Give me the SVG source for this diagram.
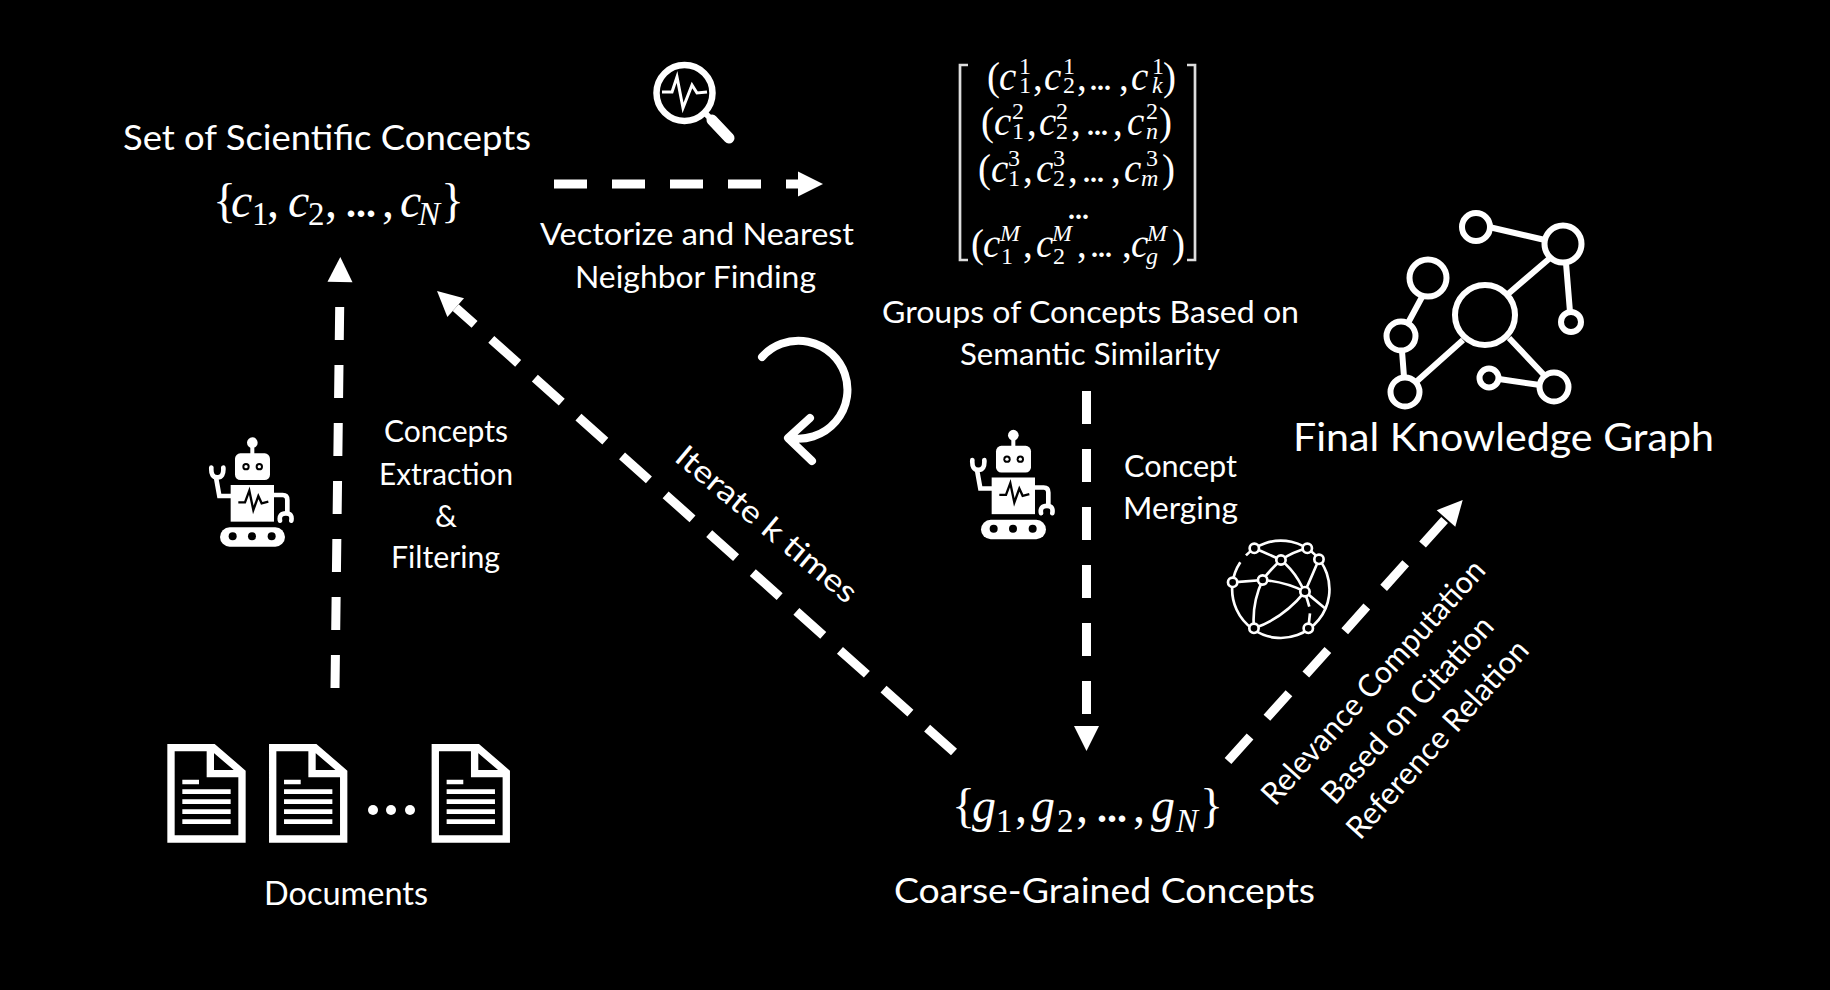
<svg xmlns="http://www.w3.org/2000/svg" width="1830" height="990" viewBox="0 0 1830 990">
<style>
.t{font-family:Lato,"Open Sans",sans-serif;fill:#fff;font-size:31px}
.m{font-family:"Liberation Serif",serif;font-style:italic;fill:#fff;font-size:39px}
.n{font-family:"Liberation Serif",serif;fill:#fff;font-size:39px}
.s{font-size:24px;font-style:normal}
.si{font-size:24px;font-style:italic}
.b{font-size:48px}
.bs{font-size:33px}
.e{font-size:28px;font-weight:bold}
.eb{font-size:40px;font-weight:bold}
.d{fill:none;stroke:#fff;stroke-width:9;marker-end:url(#head)}
.w{fill:none;stroke:#fff}
.gn{fill:none;stroke:#fff;stroke-width:6}
</style>
<defs>
<marker id="head" markerUnits="userSpaceOnUse" markerWidth="30" markerHeight="30" refX="0" refY="0" orient="auto" overflow="visible"><path d="M0,-12.5 L25,0 L0,12.5 Z" fill="#fff"/></marker>
<g id="doc">
<path d="M63,83 H190 L276,157 V357 H63 Z M181,83 V161 H276" fill="none" stroke="#fff" stroke-width="22"/>
<path d="M97,179 H147 V193 H97 Z M97,208 H242 V222 H97 Z M97,238 H242 V252 H97 Z M97,268 H242 V282 H97 Z M97,298 H242 V312 H97 Z" fill="#fff"/>
</g>
<g id="robot">
<circle cx="187" cy="68" r="16" fill="#fff"/>
<rect x="181" y="70" width="12" height="35" fill="#fff"/>
<rect x="135" y="100" width="105" height="80" rx="16" fill="#fff"/>
<circle cx="168" cy="140" r="11" fill="#000"/><circle cx="208" cy="140" r="11" fill="#000"/>
<circle cx="168" cy="140" r="5" fill="#fff"/><circle cx="208" cy="140" r="5" fill="#fff"/>
<rect x="122" y="195" width="130" height="110" fill="#fff"/>
<polyline points="145,247 165,247 178,212 190,270 205,228 215,250 235,245" fill="none" stroke="#000" stroke-width="7"/>
<path d="M125,228 H88 L78,172 M250,225 H278 Q292,225 292,240 V280" fill="none" stroke="#fff" stroke-width="14"/>
<path d="M64,143 Q62,172 82,172 Q102,172 100,143 M270,302 Q266,280 288,280 Q308,280 304,302" fill="none" stroke="#fff" stroke-width="14" stroke-linecap="round"/>
<rect x="90" y="322" width="195" height="58" rx="29" fill="#fff"/>
<circle cx="128" cy="349" r="12" fill="#000"/><circle cx="186" cy="349" r="12" fill="#000"/><circle cx="245" cy="349" r="12" fill="#000"/>
</g>
</defs>
<rect width="1830" height="990" fill="#000"/>

<g id="connectors">
<path class="d" d="M335,688 L340,282" stroke-dasharray="33 25"/>
<path class="d" d="M554,184 H798" stroke-dasharray="33 25"/>
<path class="d" d="M1086.5,391 V726" stroke-dasharray="33 25"/>
<path class="d" d="M954,752 L455.7,307.6" stroke-dasharray="36 22.4"/>
<path class="d" d="M1228,761 L1446,518.5" stroke-dasharray="33 25.2"/>
<path id="loop" class="w" stroke-width="8" stroke-linecap="round" stroke-linejoin="round" d="M762,357 A49,49 0 1 1 790,438 M810,418 L788,438 L812,461"/>
</g>

<g id="node-concepts">
<text class="t" x="123" y="150" style="font-size:34px" textLength="408" lengthAdjust="spacingAndGlyphs">Set of Scientific Concepts</text>
<text class="n b" y="217"><tspan x="213">{</tspan><tspan class="m b" x="231">c</tspan><tspan class="bs" x="252" y="225">1</tspan><tspan x="267" y="217">,</tspan><tspan class="m b" x="288">c</tspan><tspan class="bs" x="308" y="225">2</tspan><tspan x="325" y="217">,</tspan><tspan class="eb" x="346">...</tspan><tspan x="382">,</tspan><tspan class="m b" x="400">c</tspan><tspan class="m bs" x="418" y="225">N</tspan><tspan x="441" y="217">}</tspan></text>
</g>

<g id="node-search" fill="none" stroke="#fff">
<circle cx="684.5" cy="93" r="28" stroke-width="6.5"/>
<polyline points="662,92 672,92 677,77 683,108 692,85 697,93 707,92" stroke-width="3"/>
<line x1="705" y1="113" x2="712" y2="120" stroke-width="6"/>
<line x1="712" y1="120" x2="729" y2="138" stroke-width="11" stroke-linecap="round"/>
</g>

<g id="label-vectorize">
<text class="t" x="540" y="245" textLength="314" lengthAdjust="spacingAndGlyphs">Vectorize and Nearest</text>
<text class="t" x="575" y="288" textLength="241" lengthAdjust="spacingAndGlyphs">Neighbor Finding</text>
</g>

<g id="node-matrix">
<path class="w" stroke-width="2.7" style="stroke:#ddd" d="M968,65 H960 V260 H968 M1187,65 H1195 V260 H1187"/>
<text class="n" y="90"><tspan x="987">(</tspan><tspan class="m" x="999">c</tspan><tspan class="s" x="1019" y="74">1</tspan><tspan class="s" x="1019" y="93">1</tspan><tspan x="1033" y="90">,</tspan><tspan class="m" x="1044">c</tspan><tspan class="s" x="1063" y="74">1</tspan><tspan class="s" x="1063" y="93">2</tspan><tspan x="1077" y="90">,</tspan><tspan class="e" x="1090">...</tspan><tspan x="1119">,</tspan><tspan class="m" x="1131">c</tspan><tspan class="s" x="1152" y="74">1</tspan><tspan class="si" x="1152" y="93">k</tspan><tspan x="1163" y="90">)</tspan></text>
<text class="n" y="135"><tspan x="981">(</tspan><tspan class="m" x="994">c</tspan><tspan class="s" x="1012" y="119">2</tspan><tspan class="s" x="1012" y="139">1</tspan><tspan x="1027" y="135">,</tspan><tspan class="m" x="1039">c</tspan><tspan class="s" x="1056" y="119">2</tspan><tspan class="s" x="1056" y="139">2</tspan><tspan x="1071" y="135">,</tspan><tspan class="e" x="1087">...</tspan><tspan x="1113">,</tspan><tspan class="m" x="1127">c</tspan><tspan class="s" x="1146" y="119">2</tspan><tspan class="si" x="1146" y="139">n</tspan><tspan x="1159" y="135">)</tspan></text>
<text class="n" y="182"><tspan x="978">(</tspan><tspan class="m" x="991">c</tspan><tspan class="s" x="1008" y="166">3</tspan><tspan class="s" x="1008" y="186">1</tspan><tspan x="1023" y="182">,</tspan><tspan class="m" x="1036">c</tspan><tspan class="s" x="1053" y="166">3</tspan><tspan class="s" x="1053" y="186">2</tspan><tspan x="1068" y="182">,</tspan><tspan class="e" x="1083">...</tspan><tspan x="1111">,</tspan><tspan class="m" x="1124">c</tspan><tspan class="s" x="1146" y="166">3</tspan><tspan class="si" x="1141" y="186">m</tspan><tspan x="1162" y="182">)</tspan></text>
<text class="n e" x="1068" y="219">...</text>
<text class="n" y="257"><tspan x="971">(</tspan><tspan class="m" x="983">c</tspan><tspan class="si" x="1000" y="241">M</tspan><tspan class="s" x="1001" y="264">1</tspan><tspan x="1023" y="257">,</tspan><tspan class="m" x="1036">c</tspan><tspan class="si" x="1052" y="241">M</tspan><tspan class="s" x="1053" y="264">2</tspan><tspan x="1077" y="257">,</tspan><tspan class="e" x="1091">...</tspan><tspan x="1122">,</tspan><tspan class="m" x="1131">c</tspan><tspan class="si" x="1147" y="241">M</tspan><tspan class="si" x="1146" y="264">g</tspan><tspan x="1172" y="257">)</tspan></text>
</g>

<g id="label-groups">
<text class="t" x="882" y="323" textLength="417" lengthAdjust="spacingAndGlyphs">Groups of Concepts Based on</text>
<text class="t" x="960" y="365" textLength="260" lengthAdjust="spacingAndGlyphs">Semantic Similarity</text>
</g>

<g id="node-knowledge-graph">
<g class="gn">
<path d="M1489,227 L1545,240 M1550,258 L1508,294 M1566,263 L1570,312 M1422,297 L1408,323 M1402,351 L1404,377 M1416,382 L1463,340 M1509,338 L1544,375 M1499,379 L1540,385"/>
<circle cx="1476" cy="227" r="14"/><circle cx="1563" cy="244" r="18.5"/><circle cx="1428" cy="278" r="18.5"/><circle cx="1485" cy="315" r="30"/><circle cx="1571" cy="322" r="10"/><circle cx="1401" cy="336" r="14.5"/><circle cx="1405" cy="392" r="14.5"/><circle cx="1554" cy="387" r="14.5"/><circle cx="1489" cy="378" r="9.5"/>
</g>
<text class="t" x="1293" y="451" style="font-size:38px" textLength="421" lengthAdjust="spacingAndGlyphs">Final Knowledge Graph</text>
</g>

<g id="label-extraction">
<text class="t" x="384" y="442" textLength="124" lengthAdjust="spacingAndGlyphs">Concepts</text>
<text class="t" x="379" y="485" textLength="134" lengthAdjust="spacingAndGlyphs">Extraction</text>
<text class="t" x="435" y="527" textLength="22" lengthAdjust="spacingAndGlyphs">&amp;</text>
<text class="t" x="391" y="568" textLength="109" lengthAdjust="spacingAndGlyphs">Filtering</text>
</g>

<use id="node-robot-1" href="#robot" transform="translate(190,420) scale(.3333)"/>
<use id="node-robot-2" href="#robot" transform="translate(951,412.5) scale(.3333)"/>

<g id="label-merging">
<text class="t" x="1124" y="477" textLength="113" lengthAdjust="spacingAndGlyphs">Concept</text>
<text class="t" x="1123" y="519" textLength="115" lengthAdjust="spacingAndGlyphs">Merging</text>
</g>

<g id="node-globe" transform="translate(950,410) scale(.3333)" fill="none" stroke="#fff" stroke-width="8">
<path d="M888,436 A146,146 0 1 1 871,457"/>
<path d="M913,415 Q950,430 993,450 Q1030,425 1072,415 M848,517 L938,510 Q960,480 993,450 M938,510 Q1005,515 1065,545 M938,510 Q905,580 912,655 Q1000,625 1065,545 M993,450 Q1055,500 1078,590 M1065,545 L1125,595 M1107,448 Q1085,500 1065,545 M1080,610 L1075,655"/>
<g fill="#000">
<circle cx="913" cy="415" r="14"/><circle cx="1072" cy="415" r="14"/><circle cx="1107" cy="448" r="14"/><circle cx="993" cy="450" r="14"/><circle cx="848" cy="517" r="14"/><circle cx="938" cy="510" r="14"/><circle cx="1065" cy="545" r="14"/><circle cx="912" cy="655" r="14"/><circle cx="1075" cy="655" r="14"/>
</g>
</g>

<g id="label-iterate">
<text class="t" transform="translate(673,460) rotate(39.8)" textLength="226" lengthAdjust="spacingAndGlyphs">Iterate k times</text>
</g>

<g id="label-relevance">
<text class="t" transform="translate(1275,807) rotate(-48)" textLength="317" lengthAdjust="spacingAndGlyphs">Relevance Computation</text>
<text class="t" transform="translate(1335,806) rotate(-48)" textLength="240" lengthAdjust="spacingAndGlyphs">Based on Citation</text>
<text class="t" transform="translate(1360,841) rotate(-48)" textLength="255" lengthAdjust="spacingAndGlyphs">Reference Relation</text>
</g>

<g id="node-documents">
<use href="#doc" transform="translate(150,720) scale(.3333)"/>
<use href="#doc" transform="translate(251.7,720) scale(.3333)"/>
<use href="#doc" transform="translate(414.3,720) scale(.3333)"/>
<circle cx="373" cy="810" r="5" fill="#fff"/><circle cx="391" cy="810" r="5" fill="#fff"/><circle cx="410" cy="810" r="5" fill="#fff"/>
<text class="t" x="264" y="905" style="font-size:33px" textLength="164" lengthAdjust="spacingAndGlyphs">Documents</text>
</g>

<g id="node-coarse">
<text class="n b" y="822"><tspan x="952">{</tspan><tspan class="m b" x="972">g</tspan><tspan class="bs" x="996" y="832">1</tspan><tspan x="1015" y="822">,</tspan><tspan class="m b" x="1031">g</tspan><tspan class="bs" x="1057" y="832">2</tspan><tspan x="1076" y="822">,</tspan><tspan class="eb" x="1097">...</tspan><tspan x="1133">,</tspan><tspan class="m b" x="1151">g</tspan><tspan class="m bs" x="1176" y="832">N</tspan><tspan x="1200" y="822">}</tspan></text>
<text class="t" x="894" y="903" style="font-size:34px" textLength="421" lengthAdjust="spacingAndGlyphs">Coarse-Grained Concepts</text>
</g>
</svg>
